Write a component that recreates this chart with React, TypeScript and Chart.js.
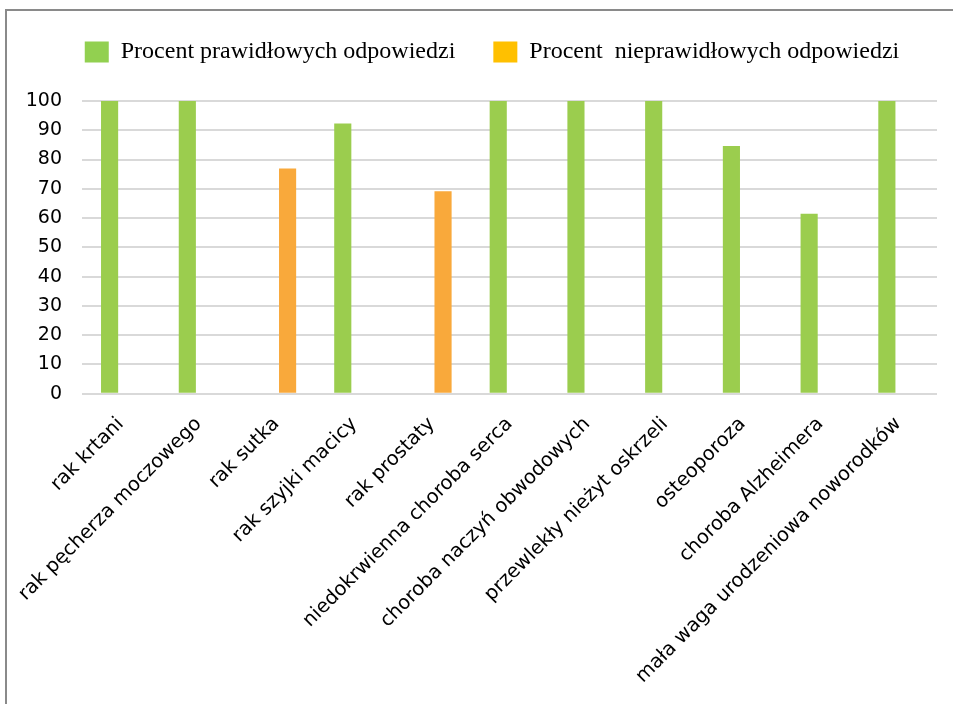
import React, { useEffect, useRef } from "react";
import { Chart, registerables } from "chart.js";

Chart.register(...registerables);

const categories = [
  "rak krtani",
  "rak pęcherza moczowego",
  "rak sutka",
  "rak szyjki macicy",
  "rak prostaty",
  "niedokrwienna choroba serca",
  "choroba naczyń obwodowych",
  "przewlekły nieżyt oskrzeli",
  "osteoporoza",
  "choroba Alzheimera",
  "mała waga urodzeniowa noworodków",
];

const correctValues = [100, 100, null, 92.3, null, 100, 100, 100, 84.6, 61.5, 100];
const incorrectValues = [null, null, 76.9, null, 69.2, null, null, null, null, null, null];

const seriesLabels = ["Procent prawidłowych odpowiedzi", "Procent  nieprawidłowych odpowiedzi"];
const yTicks = [0, 10, 20, 30, 40, 50, 60, 70, 80, 90, 100];

const barColors = ["#9BCD4E", "#F9A93B"];
const legendColors = ["#92D050", "#FFC000"];

const legendShift = {
  id: "legendShift",
  afterLayout(chart: any) {
    const lg = chart.legend;
    if (!lg) return;
    const dx = 492 - (lg.left + lg.right) / 2;
    lg.left += dx;
    lg.right += dx;
  },
};

export default function App() {
  const canvasRef = useRef<HTMLCanvasElement | null>(null);

  useEffect(() => {
    document.body.style.margin = "0";
    const canvas = canvasRef.current;
    if (!canvas) return;
    const chart = new Chart(canvas, {
      type: "bar",
      data: {
        labels: categories,
        datasets: [
          {
            label: seriesLabels[0],
            data: correctValues,
            backgroundColor: barColors[0],
            categoryPercentage: 0.58,
            barPercentage: 0.76,
          },
          {
            label: seriesLabels[1],
            data: incorrectValues,
            backgroundColor: barColors[1],
            categoryPercentage: 0.58,
            barPercentage: 0.76,
          },
        ],
      },
      plugins: [legendShift],
      options: {
        responsive: false,
        animation: false,
        devicePixelRatio: 1,
        layout: { autoPadding: false, padding: { left: 22, right: 16, top: 2, bottom: 5 } },
        plugins: {
          tooltip: { enabled: false },
          legend: {
            position: "top",
            labels: {
              boxWidth: 24,
              boxHeight: 21,
              padding: 38,
              color: "#000",
              font: { family: "'Liberation Serif', 'Times New Roman', serif", size: 24 },
              generateLabels: (ch: any) => {
                const base = Chart.defaults.plugins.legend.labels.generateLabels(ch);
                return base.map((item: any, i: number) => ({
                  ...item,
                  fillStyle: legendColors[i],
                  strokeStyle: legendColors[i],
                  lineWidth: 0,
                }));
              },
            },
          },
          subtitle: {
            display: true,
            text: "",
            position: "top",
            weight: 500,
            font: { size: 10 },
            padding: { top: 0, bottom: 15 },
          },
        },
        scales: {
          x: {
            grid: { display: false },
            border: { display: false },
            ticks: {
              minRotation: 45,
              maxRotation: 45,
              autoSkip: false,
              color: "#000",
              padding: 11,
              font: { family: "'DejaVu Sans', sans-serif", size: 19.5 },
            },
          },
          y: {
            min: 0,
            max: 100,
            afterFit: (scale: any) => {
              scale.width = 60;
            },
            afterBuildTicks: (scale: any) => {
              scale.ticks = yTicks.map((v) => ({ value: v }));
            },
            grid: { color: "#D9D9D9", lineWidth: 2, drawTicks: false },
            border: { display: false },
            ticks: {
              padding: 20,
              color: "#000",
              font: { family: "'DejaVu Sans', sans-serif", size: 19 },
            },
          },
        },
      },
    });
    return () => chart.destroy();
  }, []);

  return (
    <div style={{ position: "relative", width: 953, height: 704, overflow: "hidden", background: "#fff" }}>
      <div
        style={{
          position: "absolute",
          left: 5,
          top: 9,
          width: 1000,
          height: 800,
          border: "2px solid #8a8a8a",
          boxSizing: "border-box",
        }}
      />
      <canvas ref={canvasRef} width={953} height={704} style={{ position: "absolute", left: 0, top: 0 }} />
    </div>
  );
}
